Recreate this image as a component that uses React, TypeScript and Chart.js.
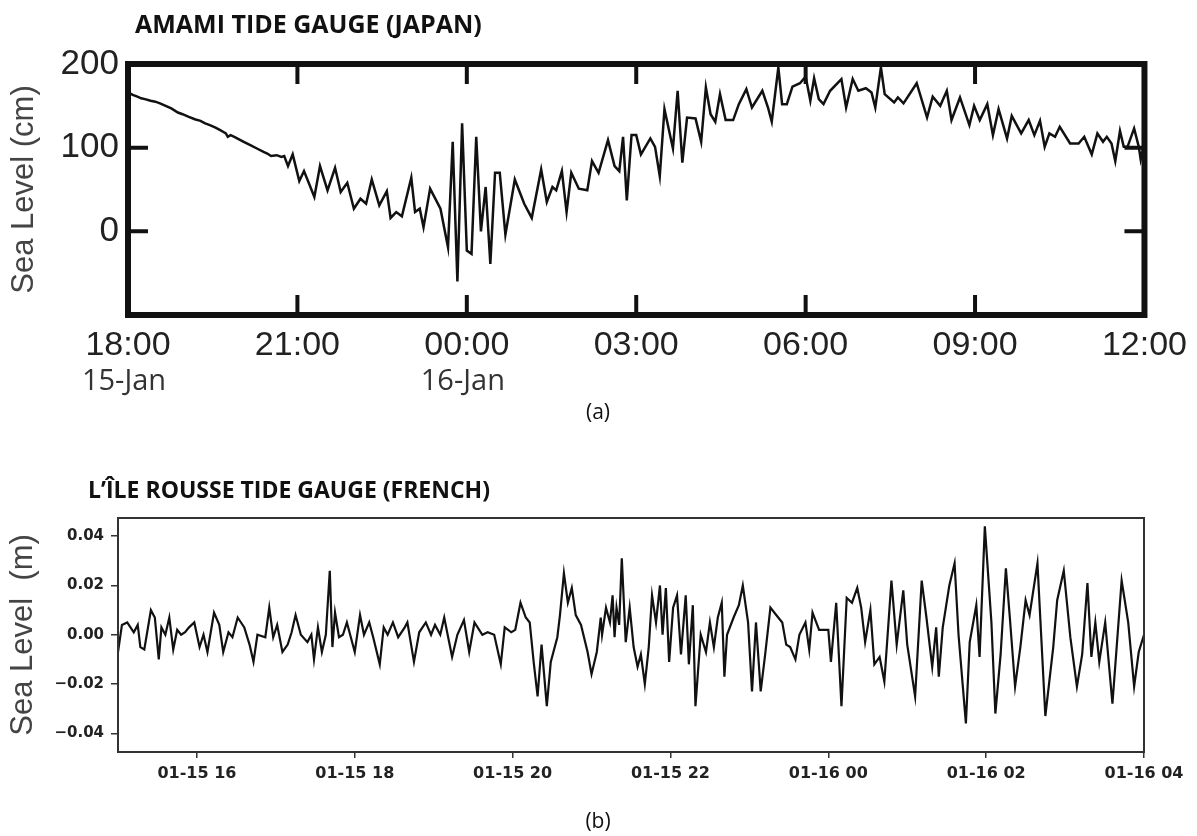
import { useEffect, useRef } from "react";
import { Chart, registerables } from "chart.js";

Chart.register(...registerables);

// ---------- (a) Amami tide gauge: minutes after 15-Jan 18:00, sea level in cm ----------
const amamiMinutes = [
  0, 5, 10, 14, 18, 24, 29, 34, 40, 46, 53, 58, 64, 71, 77, 82, 87, 93, 98, 101,
  104, 106, 109, 113, 118, 123, 130, 137, 144, 148, 152, 158, 163, 166, 170, 175, 182, 187, 192, 198,
  204, 212, 220, 226, 233, 240, 247, 253, 259, 267, 275, 279, 285, 291, 301, 305, 310, 314, 321, 332,
  340, 345, 350, 355, 360, 365, 370, 375, 380, 385, 390, 395, 401, 411, 421, 429, 439, 445, 451, 455,
  461, 466, 471, 479, 488, 493, 500, 510, 517, 522, 526, 530, 535, 540, 545, 555, 560, 565, 570, 579,
  584, 589, 594, 603, 609, 614, 619, 624, 629, 635, 643, 649, 657, 663, 674, 680, 684, 691, 695, 700,
  706, 714, 720, 725, 729, 734, 739, 746, 758, 763, 770, 776, 784, 790, 794, 800, 804, 814, 818, 824,
  838, 849, 855, 863, 870, 875, 884, 894, 899, 905, 913, 919, 925, 934, 939, 949, 957, 963, 969, 974,
  979, 985, 990, 1001, 1010, 1016, 1024, 1030, 1036, 1040, 1045, 1049, 1054, 1058, 1062, 1069, 1074, 1076, 1079,
];
const amamiLevel = [
  166, 163, 161, 159, 158, 156, 155, 153, 150, 147, 142, 140, 137, 134, 132, 129, 127, 124, 121, 119,
  117, 113, 115, 113, 110, 107, 103, 99, 95, 93, 90, 91, 89, 90, 78, 92, 60, 72, 58, 41,
  78, 49, 76, 47, 58, 27, 39, 33, 62, 31, 48, 16, 23, 18, 64, 23, 27, 5, 51, 27,
  -19, 107, -60, 129, -23, -27, 113, 0, 53, -39, 70, 70, -4, 62, 33, 16, 74, 35, 53, 49,
  72, 23, 70, 51, 49, 84, 70, 109, 78, 72, 113, 37, 115, 115, 92, 111, 101, 66, 146, 99,
  168, 82, 136, 135, 107, 172, 140, 131, 164, 133, 133, 152, 170, 148, 168, 148, 131, 196, 152, 152,
  173, 177, 185, 156, 183, 158, 152, 168, 182, 148, 182, 168, 171, 166, 148, 196, 164, 154, 160, 153,
  177, 136, 161, 150, 168, 133, 160, 127, 150, 133, 152, 115, 146, 111, 138, 117, 133, 115, 132, 101,
  117, 113, 125, 105, 105, 113, 92, 117, 107, 113, 105, 84, 120, 101, 101, 123, 101, 86, 101,
];
const amamiTickMinutes = [0, 180, 360, 540, 720, 900, 1080];
const amamiTickLabels = ["18:00", "21:00", "00:00", "03:00", "06:00", "09:00", "12:00"];
const amamiDateLabels = ["15-Jan", "", "16-Jan", "", "", "", ""];
const amamiLevelTicks = [0, 100, 200];

// ---------- (b) L'Île Rousse tide gauge: minutes after 01-15 15:00, sea level in m ----------
const rousseMinutes = [
  0, 3, 7, 12, 15, 17, 20, 25, 28, 31, 33, 36, 39, 42, 45, 48, 51, 54, 58, 62,
  65, 68, 73, 77, 80, 84, 87, 91, 96, 100, 103, 106, 112, 115, 118, 121, 125, 129, 132, 135,
  139, 144, 147, 149, 152, 155, 158, 161, 163, 165, 168, 171, 174, 177, 180, 184, 187, 191, 194, 199,
  202, 205, 209, 213, 218, 220, 225, 229, 234, 238, 241, 245, 248, 251, 254, 258, 263, 267, 271, 277,
  281, 286, 291, 294, 299, 302, 306, 310, 313, 316, 319, 322, 326, 329, 334, 336, 339, 342, 345, 348,
  352, 357, 360, 364, 367, 368, 371, 374, 376, 377.5, 379, 381, 383, 386, 389, 392, 395, 397.5, 400.5, 403.5,
  406, 409, 412, 414, 416.5, 419, 422, 425, 428, 431.6, 434, 437, 439, 443, 447, 450, 453, 456, 459, 461,
  463, 468, 472, 475, 479, 482, 485, 488.6, 492, 496, 500.4, 505, 508, 511, 515, 518, 522.6, 525.5, 528, 533,
  540, 542, 546, 550, 554, 558, 562, 565, 568, 572, 575, 579, 582.6, 588, 592, 597, 600, 606, 611, 614.6,
  619, 622, 624, 627, 632, 636, 639, 644.6, 647.5, 652.5, 655, 659, 664, 667, 671, 675, 678, 682, 686, 690,
  693, 699, 705, 711, 714, 719, 724, 729, 733, 737, 740, 743, 746, 750.5, 756, 763, 768, 772.5, 776, 780,
];
const rousseLevel = [
  -0.007, 0.004, 0.005, 0.001, 0.004, -0.005, -0.006, 0.01, 0.007, -0.01, 0.003, 0.0, 0.007, -0.006, 0.002, 0.0, 0.001, 0.003, 0.005, -0.005,
  0.0, -0.007, 0.009, 0.004, -0.007, 0.001, -0.001, 0.007, 0.003, -0.004, -0.011, 0.0, -0.001, 0.011, -0.001, 0.004, -0.007, -0.004, 0.001, 0.008,
  0.0, -0.003, 0.0, -0.01, 0.003, -0.007, 0.0, 0.026, -0.005, 0.009, -0.001, 0.0, 0.005, -0.001, -0.007, 0.008, 0.0, 0.005, -0.001, -0.012,
  0.003, 0.0, 0.005, -0.001, 0.003, 0.005, -0.011, 0.001, 0.005, 0.0, 0.004, 0.0, 0.007, -0.001, -0.009, 0.0, 0.006, -0.007, 0.005, 0.0,
  0.001, 0.0, -0.012, 0.003, 0.001, 0.002, 0.013, 0.007, 0.005, -0.011, -0.025, -0.004, -0.029, -0.011, -0.001, 0.008, 0.025, 0.013, 0.019, 0.008,
  0.004, -0.007, -0.016, -0.007, 0.007, 0.0, 0.011, 0.005, 0.016, -0.001, 0.011, 0.004, 0.031, -0.003, 0.011, -0.005, -0.013, -0.008, -0.02, -0.005,
  0.016, 0.005, 0.02, 0.0, 0.019, -0.011, 0.011, 0.016, -0.008, 0.016, -0.012, 0.012, -0.029, 0.0, -0.007, 0.005, -0.005, 0.007, 0.013, -0.017,
  0.0, 0.007, 0.012, 0.02, 0.005, -0.023, 0.005, -0.023, -0.008, 0.011, 0.008, 0.005, -0.004, -0.005, -0.01, 0.0, 0.005, -0.006, 0.009, 0.002,
  0.002, -0.011, 0.013, -0.029, 0.015, 0.013, 0.019, 0.011, -0.003, 0.01, -0.012, -0.009, -0.019, 0.022, -0.004, 0.018, -0.004, -0.025, 0.022, 0.007,
  -0.013, 0.003, -0.017, 0.003, 0.02, 0.029, 0.0, -0.036, -0.003, 0.012, -0.009, 0.044, 0.005, -0.032, -0.008, 0.027, 0.007, -0.021, -0.005, 0.014,
  0.008, 0.029, -0.033, -0.005, 0.014, 0.026, -0.001, -0.021, -0.008, 0.021, -0.009, 0.005, -0.011, 0.005, -0.028, 0.022, 0.005, -0.021, -0.007, 0.0,
];
const rousseTickMinutes = [60, 180, 300, 420, 540, 660, 780];
const rousseTickLabels = ["01-15 16", "01-15 18", "01-15 20", "01-15 22", "01-16 00", "01-16 02", "01-16 04"];
const rousseLevelTicks = [-0.04, -0.02, 0, 0.02, 0.04];

type TextItem = { text: string; x: number; y: number; font: string; color: string; align: CanvasTextAlign };

const textPlugin = (id: string, items: TextItem[]) => ({
  id,
  afterDraw(chart: any) {
    const ctx = chart.ctx as CanvasRenderingContext2D;
    ctx.save();
    ctx.textBaseline = "alphabetic";
    items.forEach((it) => {
      ctx.font = it.font;
      ctx.fillStyle = it.color;
      ctx.textAlign = it.align;
      ctx.fillText(it.text, it.x, it.y);
    });
    ctx.restore();
  },
});

export default function App() {
  const refA = useRef<HTMLCanvasElement | null>(null);
  const refB = useRef<HTMLCanvasElement | null>(null);

  useEffect(() => {
    if (!refA.current || !refB.current) return;

    const frameA = {
      id: "frameA",
      afterDatasetsDraw(chart: any) {
        const { ctx, chartArea: a, scales } = chart;
        ctx.save();
        ctx.strokeStyle = "#111";
        ctx.lineWidth = 6;
        ctx.strokeRect(a.left, a.top, a.right - a.left, a.bottom - a.top);
        ctx.lineWidth = 4;
        ctx.beginPath();
        amamiTickMinutes.slice(1, -1).forEach((m) => {
          const x = scales.x.getPixelForValue(m);
          ctx.moveTo(x, a.top);
          ctx.lineTo(x, a.top + 20);
          ctx.moveTo(x, a.bottom);
          ctx.lineTo(x, a.bottom - 20);
        });
        amamiLevelTicks.slice(0, -1).forEach((v) => {
          const y = scales.y.getPixelForValue(v);
          ctx.moveTo(a.left, y);
          ctx.lineTo(a.left + 20, y);
          ctx.moveTo(a.right, y);
          ctx.lineTo(a.right - 20, y);
        });
        ctx.stroke();
        // date line under the time labels
        ctx.font = '29px "Open Sans"';
        ctx.fillStyle = "#333";
        ctx.textAlign = "center";
        ctx.textBaseline = "alphabetic";
        amamiDateLabels.forEach((d, i) => {
          if (!d) return;
          ctx.fillText(d, scales.x.getPixelForValue(amamiTickMinutes[i]) - 4, 390);
        });
        ctx.restore();
      },
    };

    const frameB = {
      id: "frameB",
      afterDatasetsDraw(chart: any) {
        const { ctx, chartArea: a } = chart;
        ctx.save();
        ctx.strokeStyle = "#333";
        ctx.lineWidth = 2;
        ctx.strokeRect(a.left, a.top, a.right - a.left, a.bottom - a.top);
        ctx.restore();
      },
    };

    const chartA = new Chart(refA.current, {
      type: "line",
      data: {
        datasets: [
          {
            data: amamiMinutes.map((x, i) => ({ x, y: amamiLevel[i] })),
            borderColor: "#111",
            borderWidth: 2.5,
            pointRadius: 0,
            tension: 0,
          },
        ],
      },
      options: {
        responsive: false,
        animation: false,
        devicePixelRatio: 1,
        layout: { padding: { top: 64, right: 45, left: 0, bottom: 0 } },
        plugins: { legend: { display: false }, tooltip: { enabled: false } },
        scales: {
          x: {
            type: "linear",
            min: 0,
            max: 1080,
            afterBuildTicks: (s: any) => {
              s.ticks = amamiTickMinutes.map((v) => ({ value: v }));
            },
            afterFit: (s: any) => {
              s.height = 125;
            },
            grid: { display: false, drawTicks: false },
            border: { display: false },
            ticks: {
              font: { family: "Liberation Sans", size: 34 },
              color: "#222",
              padding: 10,
              maxRotation: 0,
              autoSkip: false,
              callback: (v: any) => amamiTickLabels[amamiTickMinutes.indexOf(Number(v))] ?? "",
            },
          },
          y: {
            type: "linear",
            min: -100,
            max: 200,
            afterBuildTicks: (s: any) => {
              s.ticks = amamiLevelTicks.map((v) => ({ value: v }));
            },
            afterFit: (s: any) => {
              s.width = 128;
            },
            grid: { display: false, drawTicks: false },
            border: { display: false },
            ticks: {
              font: { family: "Liberation Sans", size: 35 },
              color: "#222",
              padding: 9,
              callback: (v: any) => String(v),
            },
            title: {
              display: true,
              text: "Sea Level (cm)",
              font: { family: "Liberation Sans", size: 31 },
              color: "#444",
              padding: { top: 6, bottom: 0 },
            },
          },
        },
      },
      plugins: [
        frameA,
        textPlugin("textsA", [
          { text: "AMAMI TIDE GAUGE (JAPAN)", x: 135, y: 33, font: 'bold 25px "Open Sans"', color: "#111", align: "left" },
          { text: "(a)", x: 598, y: 419, font: '21px "Open Sans"', color: "#111", align: "center" },
        ]),
      ],
    });

    const chartB = new Chart(refB.current, {
      type: "line",
      data: {
        datasets: [
          {
            data: rousseMinutes.map((x, i) => ({ x, y: rousseLevel[i] })),
            borderColor: "#111",
            borderWidth: 2.2,
            pointRadius: 0,
            tension: 0,
          },
        ],
      },
      options: {
        responsive: false,
        animation: false,
        devicePixelRatio: 1,
        layout: { padding: { top: 78, right: 53, left: 0, bottom: 0 } },
        plugins: { legend: { display: false }, tooltip: { enabled: false } },
        scales: {
          x: {
            type: "linear",
            min: 0,
            max: 780,
            afterBuildTicks: (s: any) => {
              s.ticks = rousseTickMinutes.map((v) => ({ value: v }));
            },
            afterFit: (s: any) => {
              s.height = 84;
            },
            grid: { display: true, drawOnChartArea: false, drawTicks: true, tickLength: 6, color: "#333", lineWidth: 1.5 },
            border: { display: false },
            ticks: {
              font: { family: "DejaVu Sans", size: 16, weight: "bold" },
              color: "#222",
              padding: 6,
              maxRotation: 0,
              autoSkip: false,
              callback: (v: any) => rousseTickLabels[rousseTickMinutes.indexOf(Number(v))] ?? "",
            },
          },
          y: {
            type: "linear",
            min: -0.0476,
            max: 0.0474,
            afterBuildTicks: (s: any) => {
              s.ticks = rousseLevelTicks.map((v) => ({ value: v }));
            },
            afterFit: (s: any) => {
              s.width = 118;
            },
            grid: { display: true, drawOnChartArea: false, drawTicks: true, tickLength: 7, color: "#333", lineWidth: 1.5 },
            border: { display: false },
            ticks: {
              font: { family: "DejaVu Sans", size: 15, weight: "bold" },
              color: "#222",
              padding: 7,
              callback: (v: any) => {
                const n = Number(v);
                const s = Math.abs(n).toFixed(2);
                return n < -1e-9 ? "\u2212" + s : s;
              },
            },
            title: {
              display: true,
              text: "Sea Level  (m)",
              font: { family: "Liberation Sans", size: 31 },
              color: "#444",
              padding: { top: 5, bottom: 0 },
            },
          },
        },
      },
      plugins: [
        frameB,
        textPlugin("textsB", [
          { text: "L\u2019\u00CELE ROUSSE TIDE GAUGE (FRENCH)", x: 88, y: 58, font: 'bold 23px "Open Sans"', color: "#111", align: "left" },
          { text: "(b)", x: 598, y: 388, font: '21px "Open Sans"', color: "#111", align: "center" },
        ]),
      ],
    });

    return () => {
      chartA.destroy();
      chartB.destroy();
    };
  }, []);

  return (
    <div style={{ position: "absolute", left: 0, top: 0, width: 1197, height: 836, background: "#fff" }}>
      <canvas ref={refA} width={1197} height={440} style={{ position: "absolute", left: 0, top: 0, width: 1197, height: 440 }} />
      <canvas ref={refB} width={1197} height={396} style={{ position: "absolute", left: 0, top: 440, width: 1197, height: 396 }} />
    </div>
  );
}
